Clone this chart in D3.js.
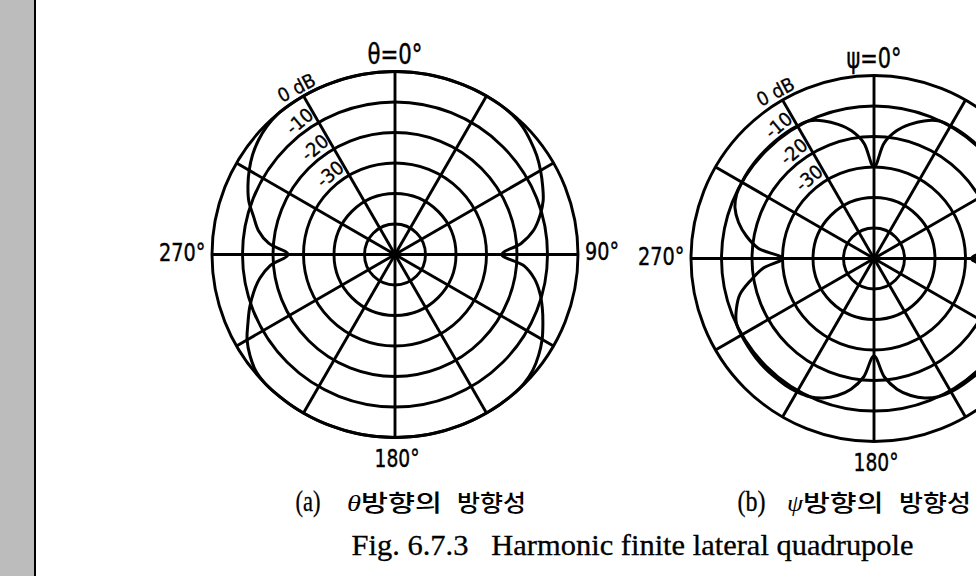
<!DOCTYPE html>
<html><head><meta charset="utf-8">
<script src="https://cdn.jsdelivr.net/npm/d3@7/dist/d3.min.js"></script>
<style>body{margin:0;background:#fff}svg{display:block}</style>
</head><body>
<svg id="c" width="976" height="576"></svg>
<script>
// ---- data ----
const angles = [0,5,10,15,20,25,30,35,40,45,50,55,60,65,70,75,80,85,
  90,95,100,105,110,115,120,125,130,135,140,145,150,155,160,165,170,175,
  180,185,190,195,200,205,210,215,220,225,230,235,240,245,250,255,260,265,
  270,275,280,285,290,295,300,305,310,315,320,325,330,335,340,345,350,355];
// (a) theta-plane pattern, dB
const dbTheta = [0,0,0,0,0,0,0,0,-0.2,-0.8,-2.0,-3.3,-4.9,-6.6,-8.3,-10.8,-13.8,-18.5,
  -25,-17.5,-13.5,-10.8,-8.6,-6.5,-4.3,-2.5,-1.0,-0.2,0,0,0,0,0,0,0,0,
  0,0,0,0,0,0,0,0,0,0,-0.5,-2,-4,-6.8,-9.3,-12,-15,-19,
  -25,-18.5,-14.5,-12,-9,-6.8,-4.8,-3,-1.6,-0.6,0,0,0,0,0,0,0,0];
// (b) psi-plane pattern, dB
const dbPsi = [-30,-22,-17.5,-14.5,-12,-10.2,-9.8,-9.7,-9.7,-9.7,-9.7,-9.8,-10,-10.3,-11.5,-14,-17.5,-21.5,
  -28,-21.5,-17,-13.5,-11.3,-10,-9.5,-9.3,-9.3,-9.3,-9.3,-9.4,-9.5,-10,-11.3,-13.5,-16.5,-21,
  -28,-21,-16.5,-13.5,-11.3,-10,-9.5,-9.3,-9.3,-9.3,-9.4,-9.6,-9.8,-10.2,-12,-14.5,-19,-23.5,
  -30,-22,-17.5,-14,-11.5,-10.3,-10,-9.8,-9.7,-9.7,-9.7,-9.7,-9.8,-10.2,-12,-14.5,-17.5,-22];
const ringDb = [0,-10,-20,-30,-40,-50];
const ringLabelDb = [0,-10,-20,-30];
const ringLabels = ["0 dB","-10","-20","-30"];
const spokeAngles = [0,30,60,90,120,150,180,210,240,270,300,330];
const topLabels = ["θ=0°","ψ=0°"];
const dirLabels = ["90°","180°","270°"];
const capLetters = ["(a)","(b)"];
const capSymbols = ["θ","ψ"];
const capWords = ["방향의","방향성"];
const figTitle = "Fig. 6.7.3   Harmonic finite lateral quadrupole";

// ---- drawing ----
const svg = d3.select("#c");
svg.append("rect").attr("width",976).attr("height",576).attr("fill","#fff");
svg.append("rect").attr("x",0).attr("y",0).attr("width",34).attr("height",576).attr("fill","#bcbcbc");
svg.append("line").attr("x1",35).attr("x2",35).attr("y1",0).attr("y2",576).attr("stroke","#000").attr("stroke-width",2);

const numFont = "'DejaVu Sans Condensed','Liberation Sans Narrow','Liberation Sans',Arial,sans-serif";
const charts = [
  {cx:395, cy:254.5, R:183, db:dbTheta, top:topLabels[0], right:true},
  {cx:874, cy:258.5, R:183, db:dbPsi, top:topLabels[1], right:false}
];
const rad = a => a*Math.PI/180;
function label(g, x, y, anchor, size, len, txt){
  return g.append("text").attr("x",x).attr("y",y).attr("text-anchor",anchor)
    .attr("font-family",numFont).attr("font-size",size)
    .attr("stroke","#000").attr("stroke-width",0.4)
    .attr("textLength",len).attr("lengthAdjust","spacingAndGlyphs").text(txt);
}

charts.forEach((c,ci) => {
  const g = svg.append("g").attr("transform",`translate(${c.cx},${c.cy})`);
  const r = d3.scaleLinear().domain([-60,0]).range([0,c.R]);
  const sw = 2.9;
  g.selectAll("circle.ring").data(ringDb).join("circle")
    .attr("r",d=>r(d)).attr("fill","none").attr("stroke","#000").attr("stroke-width",sw);
  g.selectAll("line.spoke").data(spokeAngles).join("line")
    .attr("x1",0).attr("y1",0)
    .attr("x2",d=>r(0)*Math.sin(rad(d))).attr("y2",d=>-r(0)*Math.cos(rad(d)))
    .attr("stroke","#000").attr("stroke-width",sw);
  const pts = angles.map((a,i)=>({a, v:c.db[i]}));
  const line = d3.lineRadial().angle(d=>rad(d.a)).radius(d=>r(d.v))
    .curve(d3.curveCatmullRomClosed.alpha(0.5));
  g.append("path").attr("d",line(pts)).attr("fill","none").attr("stroke","#000").attr("stroke-width",3);
  g.append("circle").attr("r",3.5).attr("fill","#000");

  // ring labels along the 330° spoke
  ringLabelDb.forEach((d,i)=>{
    const a = rad(330);
    const rr = r(d)+11;
    const off = i===0 ? 2 : 16;
    const x = rr*Math.sin(a) - off*Math.cos(a);
    const y = -rr*Math.cos(a) - off*Math.sin(a);
    g.append("text").attr("x",0).attr("y",0)
      .attr("transform",`translate(${x},${y}) rotate(${i===0?-28:-40})`)
      .attr("text-anchor","middle").attr("dominant-baseline","central")
      .attr("font-family",numFont).attr("font-size",19)
      .attr("stroke","#000").attr("stroke-width",0.3)
      .attr("textLength", i===0?40:29).attr("lengthAdjust","spacingAndGlyphs")
      .text(ringLabels[i]);
  });

  // direction labels
  label(g, 0, -191, "middle", 28, 55, c.top);
  if (c.right) label(g, 190, 5, "start", 25, 34, dirLabels[0]);
  label(g, 2, 212, "middle", 25, 45, dirLabels[1]);
  label(g, -189.5, 6, "end", 25, 46.5, dirLabels[2]);
});

// captions
const capPos = [
  {l:[295.6,25], s:[347,14], w1:[361,81], w2:[457,69]},
  {l:[737.4,28], s:[787,16], w1:[803,80.6], w2:[899,72]}
];
capPos.forEach((p,i)=>{
  const y = 511;
  svg.append("text").attr("x",p.l[0]).attr("y",y).attr("font-family","'Liberation Serif',serif")
    .attr("font-size",29).attr("stroke","#000").attr("stroke-width",0.3)
    .attr("textLength",p.l[1]).attr("lengthAdjust","spacingAndGlyphs").text(capLetters[i]);
  svg.append("text").attr("x",p.s[0]).attr("y",y).attr("font-family","'Liberation Serif',serif")
    .attr("font-style","italic").attr("font-size",24).attr("textLength",p.s[1]).attr("lengthAdjust","spacingAndGlyphs").text(capSymbols[i]);
  svg.append("text").attr("x",p.w1[0]).attr("y",y).attr("font-family","'Noto Sans CJK KR',sans-serif")
    .attr("font-weight",500).attr("font-size",23).attr("textLength",p.w1[1]).attr("lengthAdjust","spacingAndGlyphs").text(capWords[0]);
  svg.append("text").attr("x",p.w2[0]).attr("y",y).attr("font-family","'Noto Sans CJK KR',sans-serif")
    .attr("font-weight",500).attr("font-size",23).attr("textLength",p.w2[1]).attr("lengthAdjust","spacingAndGlyphs").text(capWords[1]);
});
svg.append("text").attr("x",351.6).attr("y",555).attr("font-family","'Liberation Serif',serif")
  .attr("font-size",29).attr("textLength",562).attr("lengthAdjust","spacingAndGlyphs")
  .attr("stroke","#000").attr("stroke-width",0.3)
  .attr("xml:space","preserve").style("white-space","pre").text(figTitle);
</script>
</body></html>
